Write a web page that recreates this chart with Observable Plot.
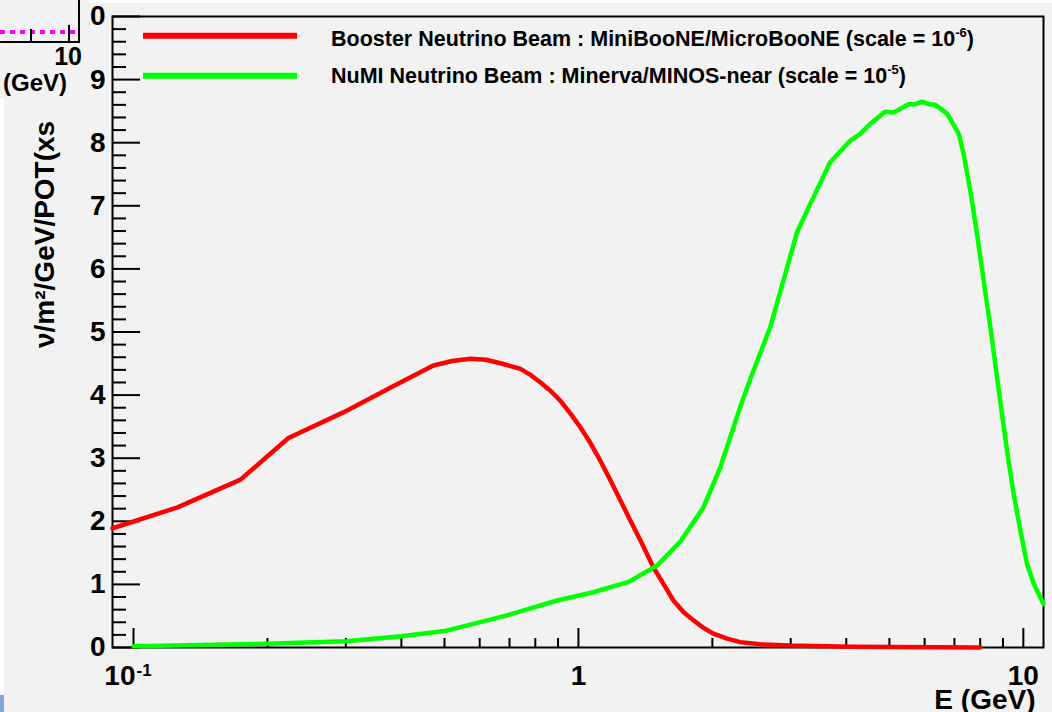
<!DOCTYPE html>
<html><head><meta charset="utf-8">
<script src="https://cdn.jsdelivr.net/npm/d3@7"></script>
<script src="https://cdn.jsdelivr.net/npm/@observablehq/plot@0.6"></script>
<style>
html,body{margin:0;padding:0;background:#f2f2f2;}
#chart{width:1052px;height:712px;overflow:hidden;position:relative;}
svg text{font-family:"Liberation Sans", Arial, sans-serif;}
</style></head><body><div id="chart"></div>
<script>
// Booster Neutrino Beam (MiniBooNE/MicroBooNE), flux x 1e-6
const boosterE    = [0.0897, 0.1256, 0.174, 0.223, 0.297, 0.374, 0.472, 0.52, 0.572, 0.62, 0.668, 0.741, 0.780, 0.822, 0.865, 0.911, 0.959, 1.01, 1.064, 1.12, 1.18, 1.243, 1.309, 1.378, 1.474, 1.555, 1.635, 1.724, 1.814, 1.912, 2.01, 2.159, 2.31, 2.56, 2.99, 4.09, 8.0];
const boosterFlux = [1.89, 2.22, 2.66, 3.32, 3.73, 4.10, 4.47, 4.54, 4.575, 4.56, 4.505, 4.415, 4.32, 4.20, 4.07, 3.91, 3.71, 3.49, 3.24, 2.96, 2.65, 2.33, 2.01, 1.70, 1.27, 1.00, 0.745, 0.56, 0.43, 0.31, 0.22, 0.14, 0.085, 0.05, 0.03, 0.012, 0.0];
// NuMI Neutrino Beam (Minerva/MINOS-near), flux x 1e-5
const numiE    = [0.1, 0.2, 0.3, 0.4, 0.5, 0.691, 0.896, 1.08, 1.297, 1.503, 1.695, 1.91, 2.085, 2.31, 2.435, 2.70, 2.89, 3.10, 3.32, 3.68, 4.08, 4.30, 4.53, 4.89, 5.11, 5.52, 5.72, 5.92, 6.13, 6.34, 6.74, 7.16, 7.34, 7.60, 7.87, 8.14, 8.43, 8.87, 9.19, 9.51, 9.85, 10.19, 10.55, 11.1];
const numiFlux = [0.02, 0.06, 0.10, 0.18, 0.26, 0.51, 0.745, 0.876, 1.04, 1.30, 1.68, 2.22, 2.86, 3.81, 4.26, 5.08, 5.82, 6.58, 7.03, 7.69, 8.03, 8.14, 8.30, 8.49, 8.48, 8.61, 8.61, 8.65, 8.61, 8.60, 8.46, 8.14, 7.82, 7.24, 6.55, 5.82, 5.08, 3.91, 3.12, 2.44, 1.85, 1.33, 1.01, 0.69];

const yTicks = [0, 1, 2, 3, 4, 5, 6, 7, 8, 9, 10];
const yMinorTicks = [0.2,0.4,0.6,0.8, 1.2,1.4,1.6,1.8, 2.2,2.4,2.6,2.8, 3.2,3.4,3.6,3.8, 4.2,4.4,4.6,4.8, 5.2,5.4,5.6,5.8, 6.2,6.4,6.6,6.8, 7.2,7.4,7.6,7.8, 8.2,8.4,8.6,8.8, 9.2,9.4,9.6,9.8];
const xMajorTicks = [0.1, 1, 10];
const xMinorTicks = [0.2,0.3,0.4,0.5,0.6,0.7,0.8,0.9, 2,3,4,5,6,7,8,9];
const xPlainLabels = [{v: 1, t: "1"}, {v: 10, t: "10"}];
const xSupLabels = [{v: 0.1, base: "10", sup: "-1"}];

const xTitle = "E (GeV)";
const yTitle = "ν/m²/GeV/POT(xs";
const legendItems = [
  {label: "Booster Neutrino Beam : MiniBooNE/MicroBooNE (scale = 10", sup: "-6", color: "#ff0000"},
  {label: "NuMI Neutrino Beam : Minerva/MINOS-near (scale = 10", sup: "-5", color: "#00ff00"}
];

const booster = boosterE.map((e, i) => ({E: e, flux: boosterFlux[i]}));
const numi = numiE.map((e, i) => ({E: e, flux: numiFlux[i]}));

const W = 1052, H = 712, mL = 112, mR = 9, mT = 16, mB = 65;
const innerW = W - mL - mR, innerH = H - mT - mB;
const font = "Liberation Sans, Arial, sans-serif";

const plot = Plot.plot({
  width: W, height: H,
  marginLeft: mL, marginRight: mR, marginTop: mT, marginBottom: mB,
  style: {background: "#f2f2f2", fontFamily: font, overflow: "visible", color: "black"},
  x: {type: "log", domain: [0.0897, 11.1], axis: null},
  y: {domain: [0, 10], axis: null},
  marks: [
    Plot.frame({stroke: "black", strokeWidth: 2}),
    Plot.tickY(yTicks, {y: d => d, stroke: "black", strokeWidth: 2, insetRight: innerW - 28}),
    Plot.tickY(yMinorTicks, {y: d => d, stroke: "black", strokeWidth: 2, insetRight: innerW - 14}),
    Plot.tickX(xMajorTicks, {x: d => d, stroke: "black", strokeWidth: 2, insetTop: innerH - 19}),
    Plot.tickX(xMinorTicks, {x: d => d, stroke: "black", strokeWidth: 2, insetTop: innerH - 9}),
    Plot.line(booster, {x: "E", y: "flux", stroke: "#ff0000", strokeWidth: 4.5}),
    Plot.line(numi, {x: "E", y: "flux", stroke: "#00ff00", strokeWidth: 4.5}),
    Plot.text(yTicks, {y: d => d, text: d => String(d), frameAnchor: "left", dx: -7, textAnchor: "end", lineAnchor: "middle", fontSize: 28, fontWeight: "bold", fill: "black"}),
    Plot.text(xPlainLabels, {x: "v", text: "t", frameAnchor: "bottom", dy: 18, textAnchor: "middle", lineAnchor: "top", fontSize: 28, fontWeight: "bold", fill: "black"}),
    Plot.text(xSupLabels, {x: "v", text: "base", frameAnchor: "bottom", dx: 2, dy: 18, textAnchor: "end", lineAnchor: "top", fontSize: 28, fontWeight: "bold", fill: "black"}),
    Plot.text(xSupLabels, {x: "v", text: "sup", frameAnchor: "bottom", dx: 3, dy: 16, textAnchor: "start", lineAnchor: "top", fontSize: 17, fontWeight: "bold", fill: "black"}),
    Plot.text([xTitle], {frameAnchor: "bottom-right", dx: -8, dy: 61, textAnchor: "end", lineAnchor: "bottom", fontSize: 28, fontWeight: "bold", fill: "black"}),
    Plot.text([yTitle], {frameAnchor: "left", rotate: -90, dx: -67, dy: 16, textAnchor: "start", lineAnchor: "middle", fontSize: 28, fontWeight: "bold", fill: "black"})
  ]
});

const svg = d3.select(plot);

// Legend (no border, ROOT style)
const leg = svg.append("g").attr("class", "legend").attr("text-anchor", "start");
legendItems.forEach((it, i) => {
  const cy = 35.7 + i * 40;
  leg.append("line").attr("x1", 143).attr("x2", 297).attr("y1", cy).attr("y2", cy)
    .attr("stroke", it.color).attr("stroke-width", 6);
  const t = leg.append("text").attr("x", 331).attr("y", 46 + i * 37.3)
    .attr("text-anchor", "start")
    .attr("font-size", 21.5).attr("font-weight", "bold").attr("fill", "black");
  t.append("tspan").text(it.label);
  t.append("tspan").attr("dy", -9).attr("font-size", 13).text(it.sup);
  t.append("tspan").attr("dy", 9).text(")");
});

// Fragment of the neighbouring plot that overlaps the top-left corner
const ov = svg.append("g").attr("class", "overlap");
ov.append("rect").attr("x", 0).attr("y", 0).attr("width", 89).attr("height", 99).attr("fill", "#f2f2f2");
ov.append("line").attr("x1", 0).attr("x2", 77).attr("y1", 32).attr("y2", 32)
  .attr("stroke", "#ff00ff").attr("stroke-width", 4).attr("stroke-dasharray", "5,5");
ov.append("line").attr("x1", 79).attr("x2", 79).attr("y1", 0).attr("y2", 42).attr("stroke", "black").attr("stroke-width", 2);
ov.append("line").attr("x1", 0).attr("x2", 80).attr("y1", 42).attr("y2", 42).attr("stroke", "black").attr("stroke-width", 2);
ov.append("line").attr("x1", 31).attr("x2", 31).attr("y1", 29).attr("y2", 42).attr("stroke", "black").attr("stroke-width", 2);
ov.append("line").attr("x1", 69).attr("x2", 69).attr("y1", 25).attr("y2", 42).attr("stroke", "black").attr("stroke-width", 2);
ov.append("text").attr("x", 82).attr("y", 65).attr("text-anchor", "end")
  .attr("font-size", 25).attr("font-weight", "bold").text("10");
ov.append("text").attr("x", 3).attr("y", 91).attr("text-anchor", "start")
  .attr("font-size", 24).attr("font-weight", "bold").text("(GeV)");
// slide edges
svg.append("rect").attr("x", 0).attr("y", 99).attr("width", 4).attr("height", 613).attr("fill", "#ffffff");
svg.append("rect").attr("x", 0).attr("y", 695).attr("width", 4).attr("height", 17).attr("fill", "#7fa7d6");
svg.append("rect").attr("x", 89).attr("y", 0).attr("width", W - 89).attr("height", 3).attr("fill", "#ffffff");

document.getElementById("chart").appendChild(plot);
</script>
</body></html>
